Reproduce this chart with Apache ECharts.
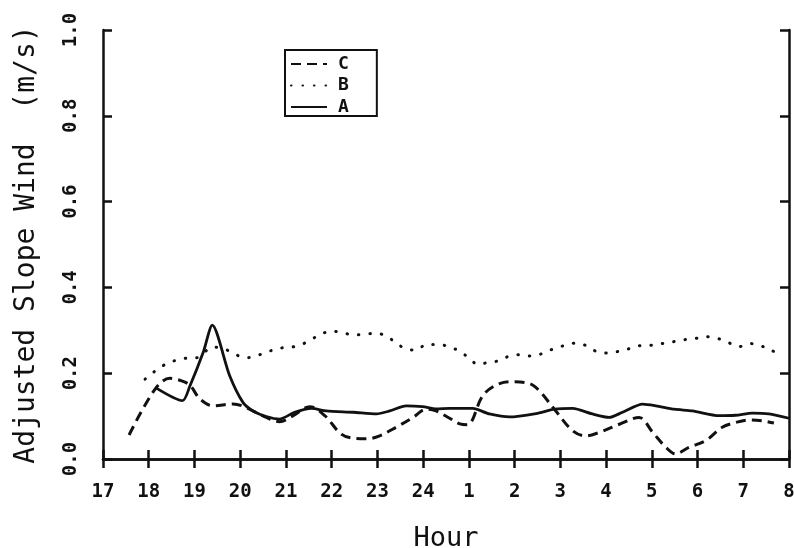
<!DOCTYPE html>
<html>
<head>
<meta charset="utf-8">
<script src="https://cdn.jsdelivr.net/npm/echarts@6/dist/echarts.min.js"></script>
<style>
  html, body { margin: 0; padding: 0; background: #fff; }
  #chart { width: 794px; height: 548px; }
</style>
</head>
<body>
<div id="chart"></div>
<script>
// Hours run continuously past midnight: 25 = 1, 26 = 2, ... 32 = 8
const hourTicks = [17, 18, 19, 20, 21, 22, 23, 24, 25, 26, 27, 28, 29, 30, 31, 32];
const hourLabels = ['17', '18', '19', '20', '21', '22', '23', '24', '1', '2', '3', '4', '5', '6', '7', '8'];

// Site C (dashed)
const hoursC = [17.57, 18.14, 18.46, 18.72, 18.9, 19.12, 19.4, 19.84, 20.06, 20.57, 20.86, 21.16, 21.52, 21.85,
  22.21, 22.5, 22.76, 23.05, 23.41, 23.78, 24.07, 24.28, 24.58, 24.8, 24.97, 25.3, 25.59, 25.89, 26.32, 26.54,
  26.87, 27.27, 27.56, 27.85, 28.29, 28.72, 29.02, 29.31, 29.52, 29.81, 30.18, 30.54, 30.83, 31.13, 31.42, 31.67];
const windC = [0.056, 0.163, 0.188, 0.182, 0.172, 0.14, 0.124, 0.128, 0.123, 0.097, 0.087, 0.101, 0.122, 0.101,
  0.058, 0.048, 0.047, 0.054, 0.074, 0.097, 0.116, 0.112, 0.095, 0.082, 0.08, 0.147, 0.172, 0.18, 0.176, 0.159,
  0.116, 0.066, 0.054, 0.062, 0.081, 0.097, 0.062, 0.027, 0.012, 0.027, 0.043, 0.074, 0.085, 0.091, 0.089, 0.084];

// Site B (dotted)
const hoursB = [17.92, 18.32, 18.75, 19.05, 19.41, 19.66, 20.14, 20.39, 20.61, 20.83, 21.08, 21.32, 21.53, 21.75,
  21.99, 22.23, 22.47, 22.72, 22.96, 23.19, 23.4, 23.62, 23.85, 24.07, 24.32, 24.56, 24.78, 25.0, 25.19, 25.43,
  25.65, 25.89, 26.13, 26.36, 26.61, 26.83, 27.07, 27.3, 27.55, 27.76, 28.0, 28.23, 28.47, 28.72, 28.97, 29.22,
  29.45, 29.71, 29.95, 30.2, 30.44, 30.68, 30.91, 31.16, 31.38, 31.62, 31.84];
const windB = [0.186, 0.218, 0.234, 0.236, 0.261, 0.256, 0.236, 0.242, 0.25, 0.258, 0.26, 0.266, 0.277, 0.29,
  0.298, 0.295, 0.289, 0.291, 0.293, 0.287, 0.271, 0.257, 0.254, 0.267, 0.267, 0.262, 0.252, 0.236, 0.221, 0.225,
  0.229, 0.24, 0.243, 0.24, 0.246, 0.256, 0.264, 0.27, 0.265, 0.252, 0.247, 0.25, 0.256, 0.264, 0.265, 0.269,
  0.273, 0.278, 0.281, 0.285, 0.281, 0.271, 0.262, 0.269, 0.264, 0.253, 0.242];

// Site A (solid)
const hoursA = [18.14, 18.74, 18.9, 19.19, 19.39, 19.77, 20.06, 20.28, 20.57, 20.86, 21.19, 21.56, 21.88, 22.47,
  22.98, 23.27, 23.63, 23.99, 24.28, 24.58, 25.08, 25.45, 25.89, 26.47, 26.87, 27.27, 27.7, 28.07, 28.36, 28.8,
  29.09, 29.49, 29.89, 30.47, 30.83, 31.2, 31.56, 32.0];
const windA = [0.167, 0.136, 0.17, 0.248, 0.312, 0.194, 0.132, 0.112, 0.099, 0.093, 0.109, 0.118, 0.112, 0.109,
  0.105, 0.112, 0.124, 0.122, 0.117, 0.118, 0.118, 0.105, 0.098, 0.106, 0.116, 0.118, 0.105, 0.097, 0.109, 0.128,
  0.124, 0.116, 0.112, 0.101, 0.102, 0.107, 0.105, 0.095];

const pairs = (xs, ys) => xs.map((x, i) => [x, ys[i]]);
const FONT = 'DejaVu Sans Mono';
const INK = '#111';

const chart = echarts.init(document.getElementById('chart'), null, { renderer: 'canvas' });

const frameLine = { show: true, lineStyle: { color: INK, width: 2.5 } };
const innerTick = { show: true, inside: true, length: 9, lineStyle: { color: INK, width: 2.5 } };

chart.setOption({
  animation: false,
  backgroundColor: '#fff',
  grid: { left: 103, right: 5, top: 30, bottom: 89, containLabel: false, outerBoundsMode: 'none' },
  legend: {
    orient: 'vertical',
    left: 285, top: 50,
    data: ['C', 'B', 'A'],
    itemWidth: 36, itemHeight: 14, itemGap: 3.5,
    padding: [5, 28, 0, 5],
    borderColor: INK, borderWidth: 2,
    // hide the marker a line series puts in the middle of its legend sample
    itemStyle: { opacity: 0 },
    textStyle: { fontFamily: FONT, fontWeight: 'bold', fontSize: 18, color: INK, padding: [0, 0, 0, 6] },
    selectedMode: false
  },
  xAxis: [
    {
      type: 'value', position: 'bottom', min: 17, max: 32, interval: 1,
      name: 'Hour', nameLocation: 'middle', nameGap: 66,
      nameTextStyle: { fontFamily: FONT, fontSize: 27, color: INK },
      axisLine: frameLine, axisTick: innerTick, splitLine: { show: false },
      axisLabel: {
        margin: 24, fontFamily: FONT, fontWeight: 'bold', fontSize: 19, color: INK,
        formatter: v => hourLabels[hourTicks.indexOf(v)]
      }
    },
    {
      type: 'value', position: 'top', min: 17, max: 32, interval: 1,
      axisLine: frameLine, axisTick: innerTick, splitLine: { show: false },
      axisLabel: { show: false }
    }
  ],
  yAxis: [
    {
      type: 'value', position: 'left', min: 0, max: 1, interval: 0.2,
      name: 'Adjusted Slope Wind  (m/s)', nameLocation: 'middle', nameGap: 62, nameRotate: 90,
      nameTextStyle: { fontFamily: FONT, fontSize: 28, color: INK },
      axisLine: frameLine, axisTick: innerTick, splitLine: { show: false },
      axisLabel: {
        rotate: 90, margin: 22, fontFamily: FONT, fontWeight: 'bold', fontSize: 19, color: INK,
        formatter: v => v.toFixed(1)
      }
    },
    {
      type: 'value', position: 'right', min: 0, max: 1, interval: 0.2,
      axisLine: frameLine, axisTick: innerTick, splitLine: { show: false },
      axisLabel: { show: false }
    }
  ],
  series: [
    {
      name: 'C', type: 'line', data: pairs(hoursC, windC), smooth: 0.35,
      symbol: 'none', lineStyle: { color: INK, width: 3, type: [10, 6] }, itemStyle: { color: INK }
    },
    {
      name: 'B', type: 'line', data: pairs(hoursB, windB), smooth: 0.35,
      symbol: 'none', lineStyle: { color: INK, width: 3, type: [0.5, 11], cap: 'round' }, itemStyle: { color: INK }
    },
    {
      name: 'A', type: 'line', data: pairs(hoursA, windA), smooth: 0.25,
      symbol: 'none', lineStyle: { color: INK, width: 2.8 }, itemStyle: { color: INK }
    }
  ]
});
</script>
</body>
</html>
